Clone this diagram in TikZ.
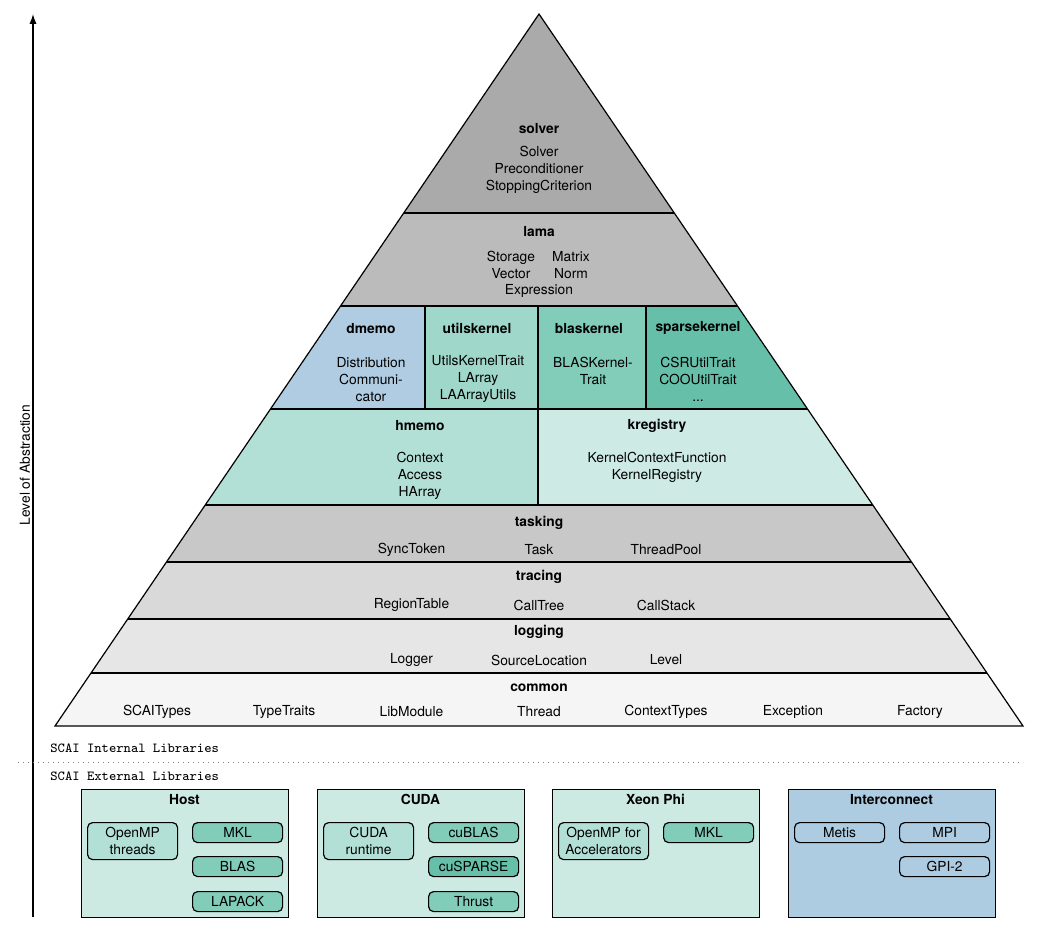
\documentclass[tikz,border=0pt]{standalone}
\usepackage{fontspec}
\setmainfont{TeX Gyre Heros}
\usetikzlibrary{arrows.meta}
\definecolor{cSolver}{HTML}{AAAAAA}
\definecolor{cLama}{HTML}{BBBBBB}
\definecolor{cDmemo}{HTML}{B0CCE2}
\definecolor{cUtils}{HTML}{9FD8CA}
\definecolor{cBlas}{HTML}{82CCBA}
\definecolor{cSparse}{HTML}{66BFA9}
\definecolor{cHmemo}{HTML}{B3E0D6}
\definecolor{cKreg}{HTML}{CDEBE4}
\definecolor{cTask}{HTML}{C8C8C8}
\definecolor{cTrace}{HTML}{D9D9D9}
\definecolor{cLog}{HTML}{E6E6E6}
\definecolor{cCommon}{HTML}{F5F5F5}
\definecolor{cBox}{HTML}{CCE9E2}
\definecolor{cInter}{HTML}{ADCBE1}
\begin{document}
\begin{tikzpicture}[x=0.5pt,y=-0.5pt,
  every node/.style={font=\fontsize{6.9}{8.5}\selectfont, inner sep=0pt, align=center},
  ttl/.style={font=\fontsize{6.9}{8.5}\selectfont\bfseries},
  mono/.style={font=\fontsize{6.9}{8.5}\selectfont\ttfamily, anchor=west},
  ln/.style={line width=0.6pt},
  extbox/.style={draw, line width=0.6pt, minimum width=103.5pt, minimum height=64pt, anchor=north west},
  libbox/.style={draw, line width=0.6pt, rounded corners=2.5pt, minimum width=45pt, minimum height=10pt, anchor=north west},
  libtwo/.style={libbox, minimum height=18.5pt}]
\useasboundingbox (0,0) rectangle (1037,931);
% pyramid
\begin{scope}
\clip (55,726) -- (539,14) -- (1023,726) -- cycle;
\fill[cSolver] (0,0) rectangle (1037,213);
\fill[cLama] (0,213) rectangle (1037,306);
\fill[cDmemo] (0,306) rectangle (425,409);
\fill[cUtils] (425,306) rectangle (538,409);
\fill[cBlas] (538,306) rectangle (646,409);
\fill[cSparse] (646,306) rectangle (1037,409);
\fill[cHmemo] (0,409) rectangle (538,505);
\fill[cKreg] (538,409) rectangle (1037,505);
\fill[cTask] (0,505) rectangle (1037,562);
\fill[cTrace] (0,562) rectangle (1037,619);
\fill[cLog] (0,619) rectangle (1037,673);
\fill[cCommon] (0,673) rectangle (1037,726);
\draw[ln] (0,213) -- (1037,213);
\draw[ln] (0,306) -- (1037,306);
\draw[ln] (0,409) -- (1037,409);
\draw[ln] (0,505) -- (1037,505);
\draw[ln] (0,562) -- (1037,562);
\draw[ln] (0,619) -- (1037,619);
\draw[ln] (0,673) -- (1037,673);
\draw[ln] (425,306) -- (425,409);
\draw[ln] (538,306) -- (538,409);
\draw[ln] (646,306) -- (646,409);
\draw[ln] (538,409) -- (538,505);
\end{scope}
\draw[ln, line join=miter] (55,726) -- (539,14) -- (1023,726) -- cycle;
% solver
\node[ttl] (solverT) at (539,128.3) {solver};
\node (solverB) at (539,169.7) {Solver\\Preconditioner\\StoppingCriterion};
% lama
\node[ttl] (lamaT) at (539,231.7) {lama};
\node (lamaA) at (511,264.6) {Storage\\Vector};
\node (lamaB) at (571,264.6) {Matrix\\Norm};
\node (lamaC) at (539,290.7) {Expression};
% middle row
\node[ttl] (dmemoT) at (371,328.3) {dmemo};
\node (dmemoB) at (371,379.3) {Distribution\\Communi-\\cator};
\node[ttl] (utilT) at (477,328.3) {utilskernel};
\node (utilB) at (478,379) {UtilsKernelTrait\\LArray\\LAArrayUtils};
\node[ttl] (blasT) at (589,328.3) {blaskernel};
\node (blasB) at (593,371.3) {BLASKernel-\\Trait};
\node[ttl] (sparseT) at (698,328.3) {sparsekernel};
\node (sparseB) at (698,379) {CSRUtilTrait\\COOUtilTrait\\...};
\node[ttl] (hmemoT) at (420,426) {hmemo};
\node (hmemoB) at (420,475.5) {Context\\Access\\HArray};
\node[ttl] (kregT) at (657,426) {kregistry};
\node (kregB) at (657,467) {KernelContextFunction\\KernelRegistry};
% tasking
\node[ttl] (taskT) at (539,522.7) {tasking};
\node (task1) at (411.5,550) {SyncToken};
\node (task2) at (539,550) {Task};
\node (task3) at (666,550) {ThreadPool};
% tracing
\node[ttl] (traceT) at (539,576.7) {tracing};
\node (trace1) at (411.5,605) {RegionTable};
\node (trace2) at (539,605) {CallTree};
\node (trace3) at (666,605) {CallStack};
% logging
\node[ttl] (logT) at (539,631.7) {logging};
\node (log1) at (411.5,660) {Logger};
\node (log2) at (539,660) {SourceLocation};
\node (log3) at (666,660) {Level};
% common
\node[ttl] (comT) at (539,687.5) {common};
\node (com1) at (157,712) {SCAITypes};
\node (com2) at (284,712) {TypeTraits};
\node (com3) at (411.5,712) {LibModule};
\node (com4) at (539,712) {Thread};
\node (com5) at (666,712) {ContextTypes};
\node (com6) at (793,712) {Exception};
\node (com7) at (920,712) {Factory};
% axis
\coordinate (axb) at (33,917);
\coordinate (axt) at (33,14);
\draw[line width=0.6pt, -{Latex[length=5pt,width=3.6pt]}] (axb) -- (axt);
\node[rotate=90] (axl) at (25,465) {Level of Abstraction};
% separator
\node[mono] (internal) at (50,748) {SCAI Internal Libraries};
\coordinate (sepL) at (18,762);
\coordinate (sepR) at (1023,762);
\draw[line width=0.5pt, dotted, gray] (sepL) -- (sepR);
\node[mono] (external) at (50,776) {SCAI External Libraries};
% external boxes
\node[extbox, fill=cBox] (host) at (81,789) {};
\node[extbox, fill=cBox] (cuda) at (317,789) {};
\node[extbox, fill=cBox] (xeon) at (552,789) {};
\node[extbox, fill=cInter] (inter) at (788,789) {};
\node[ttl] (hostT) at (184.5,799.5) {Host};
\node[ttl] (cudaT) at (420.5,799.5) {CUDA};
\node[ttl] (xeonT) at (655.5,799.5) {Xeon Phi};
\node[ttl] (interT) at (891.5,799.5) {Interconnect};
% host libs
\node[libtwo, fill=cHmemo] (omp) at (87,822) {OpenMP\\threads};
\node[libbox, fill=cBlas] (mkl) at (192,822) {MKL};
\node[libbox, fill=cBlas] (blas) at (192,856) {BLAS};
\node[libbox, fill=cBlas] (lapack) at (192,891) {LAPACK};
% cuda libs
\node[libtwo, fill=cHmemo] (curt) at (323,822) {CUDA\\runtime};
\node[libbox, fill=cBlas] (cublas) at (428,822) {cuBLAS};
\node[libbox, fill=cSparse] (cusparse) at (428,856) {cuSPARSE};
\node[libbox, fill=cBlas] (thrust) at (428,891) {Thrust};
% xeon libs
\node[libtwo, fill=cHmemo] (ompacc) at (558,822) {OpenMP for\\Accelerators};
\node[libbox, fill=cBlas] (mklx) at (663,822) {MKL};
% interconnect libs
\node[libbox, fill=cInter] (metis) at (794,822) {Metis};
\node[libbox, fill=cInter] (mpi) at (899,822) {MPI};
\node[libbox, fill=cInter] (gpi) at (899,856) {GPI-2};
\end{tikzpicture}
\end{document}
